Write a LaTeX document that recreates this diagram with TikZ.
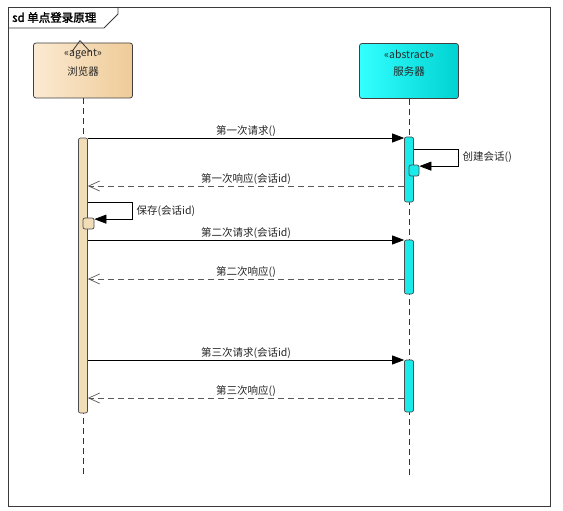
\documentclass[tikz,border=0pt]{standalone}
\usepackage{fontspec}
\setmainfont[AutoFakeBold=2]{Noto Sans CJK SC}
\usetikzlibrary{arrows.meta}
\definecolor{agentL}{HTML}{FBEAD2}
\definecolor{agentR}{HTML}{EFCB98}
\definecolor{srvL}{HTML}{33FFFF}
\definecolor{srvR}{HTML}{00D2D2}
\definecolor{agentbar}{HTML}{F2DDB9}
\definecolor{srvbar}{HTML}{1AEAEA}
\definecolor{framec}{HTML}{3A3A3A}
\begin{document}
\begin{tikzpicture}[x=1pt,y=-1pt,
  lbl/.style={font=\fontsize{10.5}{12}\selectfont, text=black!85, inner sep=1.5pt},
  boxtxt/.style={font=\fontsize{10.5}{12}\selectfont, text=black!85, inner sep=0pt},
  obj/.style={draw=black!75, line width=0.8pt, rounded corners=2.5pt, minimum width=99pt, minimum height=55pt, inner sep=0pt},
  life/.style={draw=black!80, line width=0.75pt, dash pattern=on 6pt off 4pt},
  actA/.style={draw=black!70, fill=agentbar, rounded corners=2pt, minimum width=9pt, inner sep=0pt, line width=0.7pt},
  actS/.style={draw=black!70, fill=srvbar, rounded corners=2pt, minimum width=9pt, inner sep=0pt, line width=0.7pt},
  msg/.style={draw=black, line width=0.7pt, -{Triangle[length=12pt,width=9pt]}},
  ret/.style={draw=black!65, line width=0.7pt, dash pattern=on 6pt off 4pt, -{Straight Barb[length=11pt,width=10pt,line width=0.7pt]}},
  frm/.style={draw=framec, line width=0.9pt}
]
\useasboundingbox (0,0) rectangle (563,511);
\fill[white] (0,0) rectangle (563,511);

% frame
\draw[frm] (8,7) rectangle (550,506);
\draw[frm] (8,28) -- (104,28) -- (118,14) -- (118,7);
\node[anchor=west, font=\bfseries\fontsize{11.5}{13}\selectfont, inner sep=0pt] (title) at (12,17.5) {sd 单点登录原理};

% objects
\node[obj, left color=agentL, right color=agentR] (agent) at (83,70.5) {};
\node[obj, left color=srvL, right color=srvR] (server) at (409,71) {};
\draw[black!80, line width=0.8pt] ([shift={(-11,9)}]agent.north) -- ([shift={(-3,-2)}]agent.north) -- ([shift={(7,9)}]agent.north);
\node[boxtxt] (agentst) at ([yshift=-12pt]agent.north) {«agent»};
\node[boxtxt] (agentnm) at ([yshift=-29pt]agent.north) {浏览器};
\node[boxtxt] (serverst) at ([yshift=-11pt]server.north) {«abstract»};
\node[boxtxt] (servernm) at ([yshift=-28pt]server.north) {服务器};

% lifelines
\coordinate (agentEnd) at (83,478);
\coordinate (serverEnd) at (409,478);
\draw[life] (agent.south) -- (agentEnd);
\draw[life] (server.south) -- (serverEnd);

% activations
\node[actA, minimum height=275pt] (abar) at (83,275.5) {};
\node[actS, minimum height=65pt] (sbar1) at (409,169.5) {};
\node[actS, minimum width=10pt, minimum height=11pt] (snest) at (414,170.5) {};
\node[actA, minimum width=11pt, minimum height=11pt] (anest) at (88.5,223.5) {};
\node[actS, minimum height=54pt] (sbar2) at (409,267) {};
\node[actS, minimum height=52pt] (sbar3) at (409,386) {};

% message rows
\coordinate (m1) at (0,138);
\coordinate (c2) at (458,149);
\coordinate (m3) at (0,186);
\coordinate (c4) at (132,202);
\coordinate (m5) at (0,240);
\coordinate (m6) at (0,279);
\coordinate (m7) at (0,360);
\coordinate (m8) at (0,398);

\draw[msg] (abar.east |- m1) -- node[lbl, above] (l1) {第一次请求()} (sbar1.west |- m1);
\draw[msg] (sbar1.east |- c2) -- (c2) |- ([yshift=-1.5pt]snest.north east);
\node[lbl, anchor=west] (l2) at (461,157) {创建会话()};
\draw[ret] (sbar1.west |- m3) -- node[lbl, above] (l3) {第一次响应(会话id)} (abar.east |- m3);
\draw[msg] (abar.east |- c4) -- (c4) |- ([yshift=-1.5pt]anest.north east);
\node[lbl, anchor=west] (l4) at (135,211) {保存(会话id)};
\draw[msg] (abar.east |- m5) -- node[lbl, above] (l5) {第二次请求(会话id)} (sbar2.west |- m5);
\draw[ret] (sbar2.west |- m6) -- node[lbl, above] (l6) {第二次响应()} (abar.east |- m6);
\draw[msg] (abar.east |- m7) -- node[lbl, above] (l7) {第三次请求(会话id)} (sbar3.west |- m7);
\draw[ret] (sbar3.west |- m8) -- node[lbl, above] (l8) {第三次响应()} (abar.east |- m8);
\end{tikzpicture}
\end{document}
